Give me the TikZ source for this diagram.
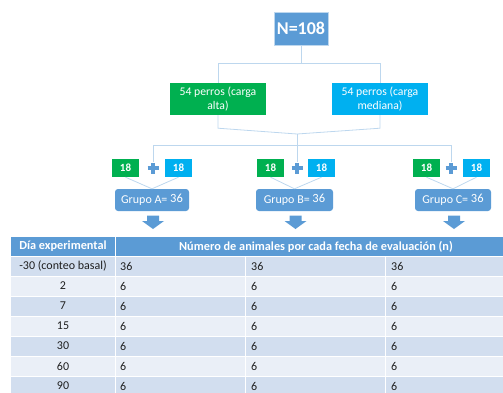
\documentclass[tikz,border=0pt]{standalone}
\usepackage{fontspec}
\setmainfont{Carlito}
\usetikzlibrary{positioning}
\definecolor{treeBlue}{HTML}{5B9BD5}
\definecolor{treeGreen}{HTML}{00B050}
\definecolor{treeCyan}{HTML}{00B0F0}
\definecolor{treeLink}{HTML}{BDD7EE}
\definecolor{rowDark}{HTML}{D2DEEF}
\definecolor{rowLight}{HTML}{EAEFF7}
\definecolor{treeInk}{HTML}{1F1F1F}
\tikzset{
  every picture/.style={font=\fontsize{10}{12}\selectfont, text=treeInk},
  tree box/.style={text=white, inner sep=0pt, align=center},
  tree top/.style={tree box, fill=treeBlue, draw=treeLink, line width=0.8pt,
    minimum width=54pt, minimum height=33pt, font=\bfseries\fontsize{18}{20}\selectfont},
  tree load/.style={tree box, minimum width=96pt, minimum height=32pt,
    font=\fontsize{11.7}{14}\selectfont},
  tree part/.style={tree box, minimum width=27pt, minimum height=18pt,
    font=\bfseries\fontsize{11}{13}\selectfont},
  tree group/.style={tree box, fill=treeBlue, rounded corners=3pt,
    minimum height=22pt, font=\fontsize{12}{14}\selectfont},
  tree link/.style={draw=treeLink, line width=0.8pt},
  tree plus/.style={draw=treeBlue, line width=3.2pt},
  tab head/.style={text=white, inner sep=0pt, font=\bfseries\fontsize{12.3}{14}\selectfont},
  tab cell/.style={anchor=west, inner sep=0pt, font=\fontsize{12}{14}\selectfont},
  tab rule/.style={draw=white, line width=1pt}
}

\begin{document}
\begin{tikzpicture}[x=1pt,y=1pt]
  \useasboundingbox (0,0) rectangle (503,-392);
  \clip (0,0) rectangle (503,-392);
  % tree of groups
  \node[tree top] (total) at (301,-28.5) {N=108};
  \node[tree load, fill=treeGreen] (alta) at (218,-99) {54 perros (carga\\alta)};
  \node[tree load, fill=treeCyan] (mediana) at (380,-99) {54 perros (carga\\mediana)};
  \coordinate (split) at (301,-63);
  \coordinate (join) at (297,-134);
  \coordinate (fork) at (297,-145);
  \draw[tree link] (total.south) -- (split);
  \draw[tree link] (split) -| (alta.north);
  \draw[tree link] (split) -| (mediana.north);
  \draw[tree link] (alta.south) -- ++(0,-13) -- (join);
  \draw[tree link] (mediana.south) -- ++(0,-13) -- (join);
  \draw[tree link] (join) -- (fork);
  \foreach \g/\px/\gx/\cx/\gr/\w in {A/153/125.5/178.5/152/74,
      B/297/270.5/321.5/294.5/77, C/451/426.5/476.5/453/76} {
    \coordinate (plus\g) at (\px,-168);
    \draw[tree link] (fork) -| ([yshift=6pt]plus\g);
    \draw[tree plus] ([xshift=-5.5pt]plus\g) -- ([xshift=5.5pt]plus\g)
      ([yshift=-5.5pt]plus\g) -- ([yshift=5.5pt]plus\g);
    \node[tree part, fill=treeGreen] (alta\g) at (\gx,-168) {18};
    \node[tree part, fill=treeCyan] (media\g) at (\cx,-168) {18};
    \node[tree group, minimum width=\w pt] (grupo\g) at (\gr,-200)
      {Grupo \g= \raisebox{1pt}{\fontsize{12.5}{14}\selectfont 36}};
    \draw[tree link] (alta\g.south) -- (grupo\g.north);
    \draw[tree link] (media\g.south) -- (grupo\g.north);
    % block arrow down to the table
    \fill[treeBlue] (\gr-5,-215.5) -- (\gr+7,-215.5) -- (\gr+7,-221)
      -- (\gr+12,-221) -- (\gr+1,-229) -- (\gr-10,-221) -- (\gr-5,-221) -- cycle;
  }
  % table
  \fill[treeBlue] (11,-237) rectangle (503,-256);
  \node[tab head] (headDay) at (63,-246.5) {Día experimental};
  \node[tab head] (headN) at (316,-246.5) {Número de animales por cada fecha de evaluación (n)};
  \foreach \d/\n/\c [count=\i] in {-30 (conteo basal)/36/rowDark, 2/6/rowLight,
      7/6/rowDark, 15/6/rowLight, 30/6/rowDark, 60/6/rowLight, 90/6/rowDark} {
    \pgfmathsetmacro\rowtop{-256-20*(\i-1)}
    \fill[\c] (11,\rowtop) rectangle (503,\rowtop-20);
    \node[tab cell, anchor=center] (day\i) at (63,\rowtop-10) {\d};
    \node[tab cell] (nA\i) at (120,\rowtop-10) {\n};
    \node[tab cell] (nB\i) at (251,\rowtop-10) {\n};
    \node[tab cell] (nC\i) at (391,\rowtop-10) {\n};
    \draw[tab rule] (11,\rowtop) -- (503,\rowtop);
  }
  \draw[tab rule] (115,-237) -- (115,-400);
  \draw[tab rule] (245,-256) -- (245,-400);
  \draw[tab rule] (385,-256) -- (385,-400);
\end{tikzpicture}
\end{document}
